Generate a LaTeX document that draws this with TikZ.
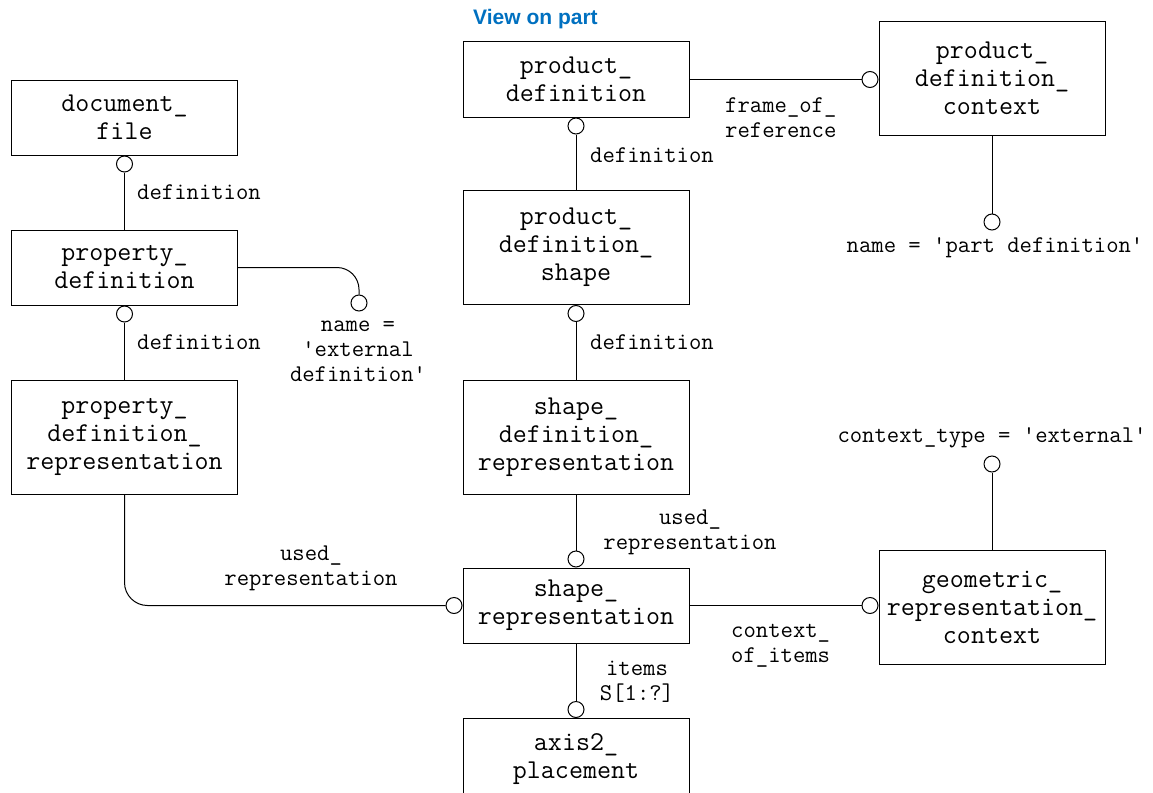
\documentclass[tikz,border=0pt]{standalone}
\usepackage{fontspec}
\setmainfont{Liberation Sans}
\setsansfont{Liberation Sans}
\definecolor{titleblue}{HTML}{0070C0}
\begin{document}
\begin{tikzpicture}[x=1pt,y=-1pt,
  entity/.style={draw, line width=1pt, minimum width=226pt, inner sep=0pt,
    align=center, font=\ttfamily\fontsize{27.2}{28}\selectfont},
  e2/.style={entity, minimum height=75pt},
  e3/.style={entity, minimum height=114pt},
  role/.style={inner sep=0pt, align=center, font=\ttfamily\fontsize{24}{25}\selectfont},
  roleleft/.style={role, align=left, anchor=west},
  ring/.style={circle, draw, fill=white, line width=1pt, minimum size=16pt, inner sep=0pt},
  link/.style={line width=1pt}]
\useasboundingbox (0,0) rectangle (1153,792);
\clip (0,0) rectangle (1153,792);

% title
\node[anchor=base west, inner sep=0pt, text=titleblue,
      font=\sffamily\bfseries\fontsize{21}{24}\selectfont] (title) at (473,25) {View on part};

% entities
\node[e2] (docfile) at (124.5,117.5) {document\_\\file};
\node[e2] (propdef) at (124.5,267.5) {property\_\\definition};
\node[e3] (pdr) at (124.5,437) {property\_\\definition\_\\representation};
\node[e2] (proddef) at (576,79.5) {product\_\\definition};
\node[e3] (pds) at (576,247.5) {product\_\\definition\_\\shape};
\node[e3] (sdr) at (576,437) {shape\_\\definition\_\\representation};
\node[e2] (sr) at (576,605.5) {shape\_\\representation};
\node[entity, minimum height=82pt, anchor=north] (a2p) at (576,718) {axis2\_\\placement};
\node[e3] (pdc) at (992,78.5) {product\_\\definition\_\\context};
\node[e3] (grc) at (992,607) {geometric\_\\representation\_\\context};

% relationship ends
\node[ring, anchor=north] (c1) at (docfile.south) {};
\node[ring, anchor=north] (c2) at (propdef.south) {};
\node[ring, anchor=north] (c3) at (proddef.south) {};
\node[ring, anchor=north] (c4) at (pds.south) {};
\node[ring, anchor=south] (c5) at (sr.north) {};
\node[ring, anchor=south] (c6) at (a2p.north) {};
\node[ring, anchor=east] (c7) at (pdc.west |- proddef.east) {};
\node[ring, anchor=east] (c8) at (grc.west |- sr.east) {};
\node[ring, anchor=east] (c9) at (sr.west) {};
\node[ring] (c10) at (992,222) {};
\node[ring] (c11) at (992,464) {};
\node[ring] (c12) at (359,303) {};

% connectors
\draw[link] (c1.south) -- (propdef.north);
\draw[link] (c2.south) -- (pdr.north);
\draw[link] (c3.south) -- (pds.north);
\draw[link] (c4.south) -- (sdr.north);
\draw[link] (sdr.south) -- (c5.north);
\draw[link] (sr.south) -- (c6.north);
\draw[link] (proddef.east) -- (c7.west);
\draw[link] (sr.east) -- (c8.west);
\draw[link] (pdc.south) -- (c10.north);
\draw[link] (grc.north) -- (c11.south);
\draw[link, rounded corners=22pt] (propdef.east) -| (c12.north);
\draw[link, rounded corners=23pt] (pdr.south) |- (c9.west);

% role labels
\node[roleleft] (l1) at (137,192) {definition};
\node[roleleft] (l2) at (137,342) {definition};
\node[role] (l3) at (358,351) {name =\\'external\\definition'};
\node[roleleft] (l4) at (725,117.5) {frame\_of\_\\reference};
\node[roleleft] (l5) at (590,155) {definition};
\node[role] (l6) at (995,248) {name = 'part definition'};
\node[roleleft] (l7) at (590,342) {definition};
\node[role] (l8) at (992,438) {context\_type = 'external'};
\node[role] (l9) at (690,532.5) {used\_\\representation};
\node[role] (l10) at (311,568.5) {used\_\\representation};
\node[roleleft] (l11) at (731,645.5) {context\_\\of\_items};
\node[role] (l12) at (637,681.5) {items\\S[1:?]};
\end{tikzpicture}
\end{document}
